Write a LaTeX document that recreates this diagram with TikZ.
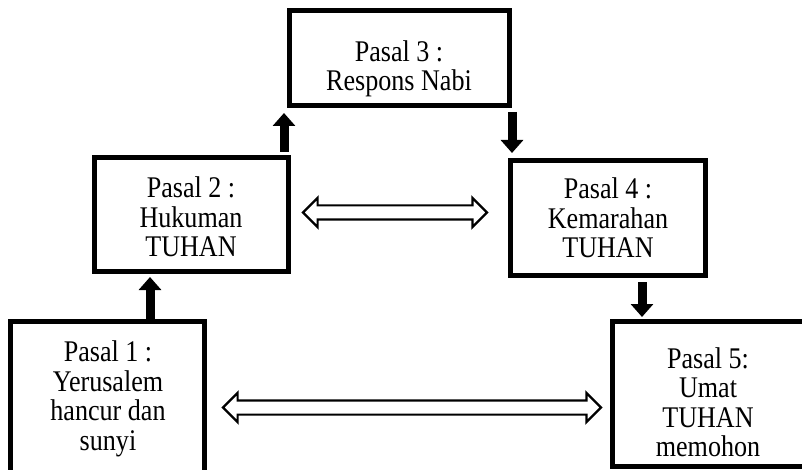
\documentclass[tikz,border=0pt]{standalone}
\usepackage{fontspec}
\setmainfont{Liberation Serif}[FakeStretch=0.87]
\usetikzlibrary{arrows.meta,shapes.arrows}
\tikzset{
  boxnode/.style={draw=black, line width=5pt, rectangle, inner sep=0pt, fill=white},
  lbl/.style={align=center, inner sep=0pt, font=\fontsize{30}{29.5}\selectfont},
  blk/.style={draw=black, line width=9pt, -{Triangle[width=22pt,length=13pt]}},
  dbl/.style={double arrow, draw=black, fill=white, line width=2.2pt,
    text height=0pt, text depth=0pt, text width=0pt, inner sep=6pt,
    double arrow head extend=7.5pt, minimum width=27pt},
}
\begin{document}
\begin{tikzpicture}[x=1pt,y=-1pt]
\useasboundingbox (0,0) rectangle (802,470);
\fill[white] (0,0) rectangle (802,470);
% boxes
\node[boxnode, minimum width=194pt, minimum height=153pt] (b1) at (107.5,397.5) {};
\node[boxnode, minimum width=193.5pt, minimum height=113pt] (b2) at (191.25,214.5) {};
\node[boxnode, minimum width=220pt, minimum height=95pt] (b3) at (399.5,58) {};
\node[boxnode, minimum width=195pt, minimum height=115pt] (b4) at (608,218) {};
\node[boxnode, minimum width=194pt, minimum height=145.5pt] (b5) at (709.5,393.75) {};
% texts
\node[lbl] (t1) at (108,399) {Pasal 1 :\\Yerusalem\\hancur dan\\sunyi};
\node[lbl] (t2) at (191,217) {Pasal 2 :\\Hukuman\\TUHAN};
\node[lbl] (t3) at (399,69) {Pasal 3 :\\Respons Nabi};
\node[lbl] (t4) at (608,218) {Pasal 4 :\\Kemarahan\\TUHAN};
\node[lbl] (t5) at (708,402) {Pasal 5:\\Umat\\TUHAN\\memohon};
% black arrows
\draw[blk, shorten <=0pt, shorten >=3.5pt] (b1.north -| 150,0) -- (b2.south -| 150,0);
\draw[blk, shorten <=3.5pt, shorten >=5pt] (b2.north -| 284,0) -- (b3.south -| 284,0);
\draw[blk, shorten <=4pt, shorten >=5pt] (b3.south -| 512,0) -- (b4.north -| 512,0);
\draw[blk, shorten <=4pt, shorten >=1.5pt] (b4.south -| 642,0) -- (b5.north -| 642,0);
% double arrows
\node[dbl, minimum height=184pt] (d1) at (395,212.5) {};
\node[dbl, minimum height=378pt] (d2) at (412,407.5) {};
\end{tikzpicture}
\end{document}
